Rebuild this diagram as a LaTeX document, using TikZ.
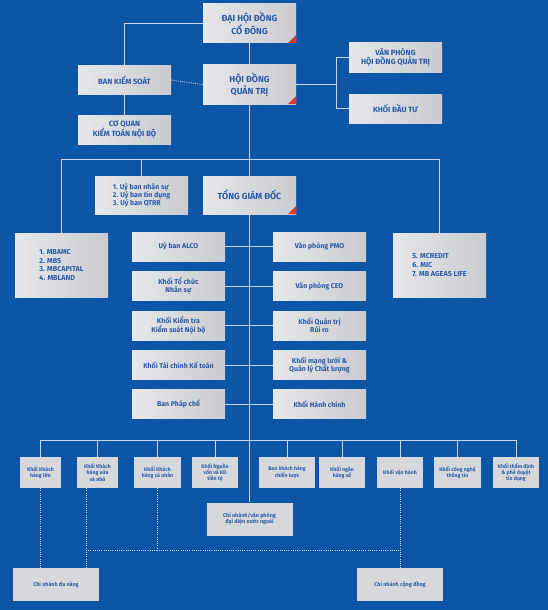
\documentclass[tikz,border=0pt]{standalone}
\usepackage{fontspec}
\setmainfont{Fira Sans}
\usetikzlibrary{positioning, calc}
\definecolor{MBBlue}{HTML}{0C55A7}
\definecolor{BoxText}{HTML}{2B5CA8}
\definecolor{BoxLight}{HTML}{E6E7EA}
\definecolor{BoxDark}{HTML}{C9CBD0}
\definecolor{BoxFlat}{HTML}{D6D8DC}
\definecolor{LinkLine}{HTML}{C9D8EE}
\definecolor{CornerRed}{HTML}{E5322D}

\begin{document}
\begin{tikzpicture}[x=1pt, y=-1pt,
    box/.style={minimum width=93pt, minimum height=29pt, inner sep=1pt, align=center,
        left color=BoxLight, right color=BoxDark, text=BoxText,
        font=\fontsize{7}{8.4}\selectfont\bfseries},
    capbox/.style={box, font=\fontsize{7.6}{9.2}\selectfont\bfseries},
    headbox/.style={box, minimum height=39pt, font=\fontsize{8.8}{10.8}\selectfont\bfseries,
        path picture={\fill[CornerRed] (path picture bounding box.south east)
            -- ++(-8pt,0pt) -- ++(8pt,8pt) -- cycle;}},
    listbox/.style={box, align=left},
    unit/.style={minimum width=46pt, minimum height=31pt, inner sep=1pt, align=center,
        fill=BoxFlat, text=BoxText, font=\fontsize{5.2}{6.2}\selectfont\bfseries},
    branch/.style={unit, minimum width=86pt, minimum height=33pt,
        font=\fontsize{5.4}{6.6}\selectfont\bfseries},
    link/.style={draw=LinkLine, line width=0.9pt},
    dotline/.style={draw=LinkLine, line width=0.9pt, dash pattern=on 0.9pt off 1.3pt}
]
\fill[MBBlue] (0,0) rectangle (548,610);
\useasboundingbox (0,0) rectangle (548,610);

% Top levels
\node[headbox] (dhdcd) at (249.5,23.5) {ĐẠI HỘI ĐỒNG\\CỔ ĐÔNG};
\node[headbox] (hdqt) at (249.5,84.5) {HỘI ĐỒNG\\QUẢN TRỊ};
\node[capbox, minimum height=28pt] (bks) at (124.5,80) {BAN KIỂM SOÁT};
\node[capbox] (cqkt) at (124.5,129.5) {CƠ QUAN\\KIỂM TOÁN NỘI BỘ};
\node[capbox] (vphdqt) at (395.5,57.5) {VĂN PHÒNG\\HỘI ĐỒNG QUẢN TRỊ};
\node[capbox] (kdt) at (395.5,108.5) {KHỐI ĐẦU TƯ};

\draw[link] (dhdcd.west) -| (bks.north);
\draw[link] (dhdcd.south) -- (hdqt.north);
\draw[link] (bks.south) -- (cqkt.north);
\draw[dotline] (bks.east) -- (hdqt.west);
\draw[link] (hdqt.east) -- ++(40,0) coordinate (hq);
\draw[link] (vphdqt.west) -| (hq) |- (kdt.west);

% Executive level
\node[headbox, minimum height=38pt] (tgd) at (249.5,195) {TỔNG GIÁM ĐỐC};
\node[listbox, minimum height=38pt, font=\fontsize{7}{8.2}\selectfont\bfseries] (uyban) at (141.5,195)
    {1. Uỷ ban nhân sự\\2. Uỷ ban tín dụng\\3. Uỷ ban QTRR};
\node[listbox, minimum height=64pt, font=\fontsize{7.2}{8.6}\selectfont\bfseries] (mbamc) at (61.5,265)
    {1. MBAMC\\2. MBS\\3. MBCAPITAL\\4. MBLAND};
\node[listbox, minimum height=64pt, font=\fontsize{7.2}{8.6}\selectfont\bfseries] (mcredit) at (439.5,265)
    {5. MCREDIT\\6. MIC\\7. MB AGEAS LIFE};

\coordinate (bus1) at (0,159);
\draw[link] (hdqt.south) -- (tgd.north);
\draw[link] (mbamc.north) -- (mbamc.north |- bus1) -- (mcredit.north |- bus1) -- (mcredit.north);
\draw[link] (uyban.north) -- (uyban.north |- bus1);

% Divisions under the CEO
\foreach \i/\lt/\rt/\yy in {
    1/{Uỷ ban ALCO}/{Văn phòng PMO}/246.5,
    2/{Khối Tổ chức\\Nhân sự}/{Văn phòng CEO}/286,
    3/{Khối Kiểm tra\\Kiểm soát Nội bộ}/{Khối Quản trị\\Rủi ro}/325.5,
    4/{Khối Tài chính Kế toán}/{Khối mạng lưới \&\\Quản lý Chất lượng}/365,
    5/{Ban Pháp chế}/{Khối Hành chính}/404} {
    \node[box] (l\i) at (178.5,\yy) {\lt};
    \node[box] (r\i) at (319.5,\yy) {\rt};
    \draw[link] (l\i.east) -- (r\i.west);
}

% Business units
\node[branch] (cnnn) at (249.5,519) {Chi nhánh/văn phòng\\đại diện nước ngoài};
\draw[link] (tgd.south) -- (cnnn.north);

\coordinate (bus2) at (0,440);
\foreach \i/\xx/\ww/\txt in {
    1/40.5/41/{Khối Khách\\hàng lớn},
    2/97.5/41/{Khối Khách\\hàng vừa\\và nhỏ},
    3/157.5/47/{Khối Khách\\hàng cá nhân},
    4/215/46/{Khối Nguồn\\vốn và KD\\tiền tệ},
    5/287/56/{Ban khách hàng\\chiến lược},
    6/342/46/{Khối ngân\\hàng số},
    7/400/46/{Khối vận hành},
    8/457.5/47/{Khối công nghệ\\thông tin},
    9/516/46/{Khối thẩm định\\\& phê duyệt\\tín dụng}} {
    \node[unit, minimum width=\ww pt] (u\i) at (\xx,472.5) {\txt};
    \draw[link] (u\i.north) -- (u\i.north |- bus2);
}
\draw[link] (u1.north |- bus2) -- (u9.north |- bus2);

% Branch network
\node[branch] (cndn) at (56,584.5) {Chi nhánh đa năng};
\node[branch] (cncd) at (400,584.5) {Chi nhánh cộng đồng};

\coordinate (dbus) at (0,550);
\draw[dotline] (u1.south) -- (u1.south |- cndn.north);
\draw[dotline] ([xshift=-11.5pt]u2.south) coordinate (d2) -- (d2 |- cndn.north);
\draw[dotline] (u3.south) -- (u3.south |- dbus);
\draw[dotline] (d2 |- dbus) -- (u7.south |- dbus);
\draw[dotline] (u7.south) -- (cncd.north);
\end{tikzpicture}
\end{document}
